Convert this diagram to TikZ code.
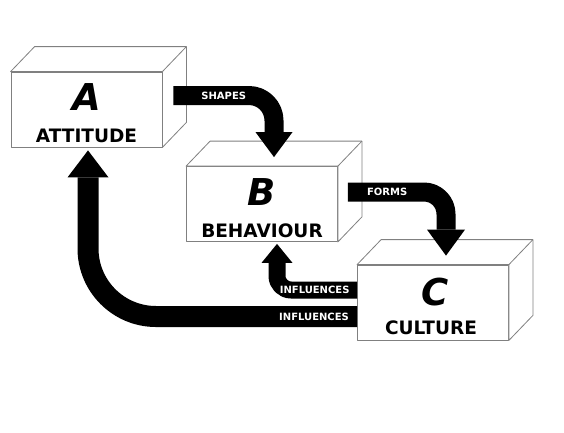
\documentclass[tikz,border=0pt]{standalone}
\usepackage{fontspec}
\setmainfont{DejaVu Sans}
\usetikzlibrary{arrows.meta,calc}
\definecolor{edge}{HTML}{808080}

\begin{document}
\begin{tikzpicture}[x=1pt,y=-1pt,line join=round,
  box/.style={draw=edge,line width=.8pt,fill=white,minimum width=151pt,minimum height=75pt,inner sep=0pt},
  letter/.style={font=\bfseries\itshape\fontsize{37}{37}\selectfont},
  word/.style={font=\bfseries\fontsize{18.5}{18.5}\selectfont},
  tag/.style={text=white,font=\bfseries\fontsize{10}{10}\selectfont,inner sep=0pt}]
  \useasboundingbox[fill=white] (0,0) rectangle (564,432);
  % the three boxes
  \node[box] (A) at (86.5,109.5) {};
  \node[box] (B) at (262,204) {};
  \node[box] (C) at (433,302.5) {};
  \foreach \n in {A,B,C}{
    \draw[edge,line width=.8pt,fill=white] (\n.north west) -- ++(24,-25) -| ($(\n.south east)+(24,-25)$)
      -- (\n.south east) -- (\n.north east) -- cycle;
    \draw[edge,line width=.8pt] (\n.north east) -- ++(24,-25);
  }
  \node[letter] at ($(A.center)+(0,-12)$) {A};
  \node[word] at ($(A.center)+(0,26)$) {ATTITUDE};
  \node[letter] at ($(B.center)+(0,-12)$) {B};
  \node[word] at ($(B.center)+(0,27)$) {BEHAVIOUR};
  \node[letter] at ($(C.center)+(2,-10)$) {C};
  \node[word] at ($(C.center)+(-2,25)$) {CULTURE};
  % arrows between the boxes
  \draw[line width=19pt,rounded corners=25pt,-{Triangle[width=37pt,length=25pt,line width=0pt]}]
    ($(A.east)+(11,-14)$) -| node[tag,pos=.25] {SHAPES} ($(B.north)+(12,-9)$);
  \draw[line width=19pt,rounded corners=22pt,-{Triangle[width=38pt,length=26pt,line width=0pt]}]
    ($(B.east)+(10,-12)$) -| node[tag,pos=.2] {FORMS} ($(C.north)+(13,-9)$);
  \draw[line width=17pt,rounded corners=14pt,-{Triangle[width=31pt,length=19pt,line width=0pt]}]
    ($(C.west)+(0,-12.5)$) -| node[tag,pos=.265] {INFLUENCES} ($(B.south)+(15,2)$);
  \draw[line width=21pt,rounded corners=68pt,-{Triangle[width=41pt,length=27pt,line width=0pt]}]
    ($(C.west)+(0,14)$) -| node[tag,pos=.08] {INFLUENCES} ($(A.south)+(1.5,3)$);
\end{tikzpicture}
\end{document}
